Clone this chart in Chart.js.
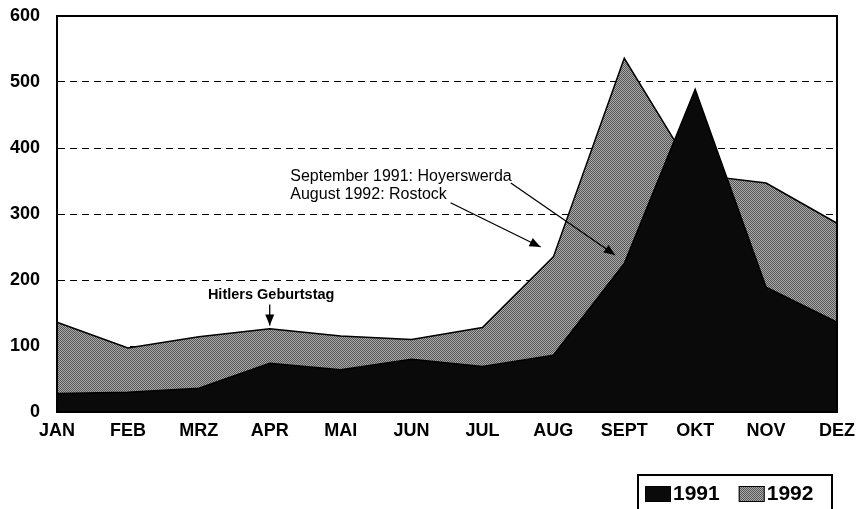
<!DOCTYPE html>
<html>
<head>
<meta charset="utf-8">
<script src="https://cdn.jsdelivr.net/npm/chart.js@4"></script>
<style>
html, body { margin: 0; padding: 0; background: #fff; }
</style>
</head>
<body>
<canvas id="grafik" width="864" height="509"></canvas>
<script>
// ---------- Daten
var monate = ['JAN', 'FEB', 'MRZ', 'APR', 'MAI', 'JUN', 'JUL', 'AUG', 'SEPT', 'OKT', 'NOV', 'DEZ'];
var werte1991 = [28, 30, 36, 74, 64, 80, 69, 86, 225, 489, 189, 136];
var werte1992 = [136, 97, 114, 126, 115, 110, 128, 235, 536, 360, 347, 286];
var yMin = 0;
var yMax = 600;
var yStep = 100;

// Beschriftungen im Diagramm (Position in Monat-Index / Wert)
var notizen = [
    { text: 'Hitlers Geburtstag', x: 3.02, y: 177, bold: true, size: 14.5, align: 'center' },
    { text: 'September 1991: Hoyerswerda', x: 3.29, y: 356, bold: false, size: 16, align: 'left' },
    { text: 'August 1992: Rostock', x: 3.29, y: 330, bold: false, size: 16, align: 'left' }
];
var pfeile = [
    { von: [3, 163], nach: [3, 131] },
    { von: [6.4, 347], nach: [7.87, 238] },
    { von: [5.55, 317], nach: [6.82, 250] }
];

var schrift = "'Liberation Sans', Arial, sans-serif";

var canvas = document.getElementById('grafik');
var ctx = canvas.getContext('2d');

// Rastermuster wie im Scan
function raster(hell, dunkel) {
    var c = document.createElement('canvas');
    c.width = 2; c.height = 2;
    var g = c.getContext('2d');
    g.fillStyle = hell; g.fillRect(0, 0, 2, 2);
    g.fillStyle = dunkel; g.fillRect(0, 0, 1, 1); g.fillRect(1, 1, 1, 1);
    return ctx.createPattern(c, 'repeat');
}
var grau = raster('#ababab', '#555555');
var schwarz = '#0a0a0a';

function pfeilZeichnen(c, x1, y1, x2, y2) {
    c.beginPath();
    c.moveTo(x1, y1);
    c.lineTo(x2, y2);
    c.stroke();
    var w = Math.atan2(y2 - y1, x2 - x1);
    var l = 11, b = 4.5;
    c.beginPath();
    c.moveTo(x2, y2);
    c.lineTo(x2 - l * Math.cos(w) + b * Math.sin(w), y2 - l * Math.sin(w) - b * Math.cos(w));
    c.lineTo(x2 - l * Math.cos(w) - b * Math.sin(w), y2 - l * Math.sin(w) + b * Math.cos(w));
    c.closePath();
    c.fill();
}

var extras = {
    id: 'extras',
    afterDatasetsDraw: function (chart) {
        var c = chart.ctx, a = chart.chartArea;
        c.save();
        c.strokeStyle = '#000';
        c.lineWidth = 2;
        c.beginPath();
        c.moveTo(a.left, a.bottom);
        c.lineTo(a.left, a.top);
        c.lineTo(a.right, a.top);
        c.lineTo(a.right, a.bottom);
        c.lineTo(a.left, a.bottom);
        c.stroke();
        c.restore();
    },
    afterDraw: function (chart) {
        var c = chart.ctx;
        var xs = chart.scales.x, ys = chart.scales.y;
        c.save();
        c.fillStyle = '#000';
        c.strokeStyle = '#000';
        c.textBaseline = 'middle';
        notizen.forEach(function (n) {
            c.font = (n.bold ? 'bold ' : '') + n.size + 'px ' + schrift;
            c.textAlign = n.align;
            c.fillText(n.text, xs.getPixelForValue(n.x), ys.getPixelForValue(n.y));
        });
        c.lineWidth = 1.3;
        pfeile.forEach(function (p) {
            pfeilZeichnen(c,
                xs.getPixelForValue(p.von[0]), ys.getPixelForValue(p.von[1]),
                xs.getPixelForValue(p.nach[0]), ys.getPixelForValue(p.nach[1]));
        });

        // Legende mit Rahmen
        var ds = chart.data.datasets;
        c.font = 'bold 21px ' + schrift;
        c.textAlign = 'left';
        var x = 645, y = 494;
        ds.forEach(function (d) {
            c.fillStyle = d.backgroundColor;
            c.fillRect(x, y - 8, 26, 16);
            c.lineWidth = 1;
            c.strokeRect(x + 0.5, y - 7.5, 25, 15);
            c.fillStyle = '#000';
            c.fillText(d.label, x + 28, y);
            x += 28 + c.measureText(d.label).width + 19;
        });
        c.lineWidth = 2;
        c.strokeRect(638, 475, 194, 50);
        c.restore();
    }
};

new Chart(ctx, {
    type: 'line',
    data: {
        labels: monate,
        datasets: [
            {
                label: '1991',
                data: werte1991,
                fill: 'origin',
                backgroundColor: schwarz,
                borderColor: '#000',
                borderWidth: 1.5,
                pointRadius: 0,
                tension: 0
            },
            {
                label: '1992',
                data: werte1992,
                fill: 'origin',
                backgroundColor: grau,
                borderColor: '#000',
                borderWidth: 1.5,
                pointRadius: 0,
                tension: 0
            }
        ]
    },
    options: {
        responsive: false,
        animation: false,
        layout: { padding: 0 },
        plugins: {
            legend: { display: false },
            tooltip: { enabled: false }
        },
        scales: {
            x: {
                offset: false,
                grid: { display: false, drawTicks: false },
                border: { display: true, color: '#000', width: 2 },
                ticks: {
                    color: '#000',
                    font: { family: schrift, size: 18, weight: 'bold' },
                    padding: 8,
                    maxRotation: 0,
                    autoSkip: false
                },
                afterFit: function (s) {
                    s.height = 97;
                    s.paddingLeft = 0;
                    s.paddingRight = 27;
                }
            },
            y: {
                min: yMin,
                max: yMax,
                grid: {
                    drawTicks: false,
                    lineWidth: 1,
                    color: function (c) {
                        if (!c.tick) return '#000';
                        return (c.tick.value === yMin || c.tick.value === yMax) ? 'rgba(0,0,0,0)' : '#000';
                    }
                },
                border: { display: true, color: '#000', width: 2, dash: [7, 5] },
                ticks: {
                    stepSize: yStep,
                    color: '#000',
                    font: { family: schrift, size: 18, weight: 'bold' },
                    padding: 17
                },
                afterFit: function (s) {
                    s.width = 57;
                    s.paddingTop = 16;
                    s.paddingBottom = 0;
                }
            }
        }
    },
    plugins: [extras]
});
</script>
</body>
</html>
